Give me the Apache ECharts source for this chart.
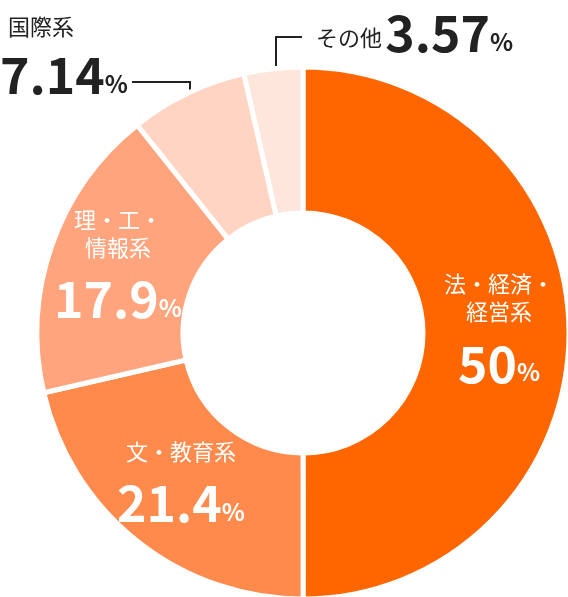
<!DOCTYPE html>
<html><head><meta charset="utf-8">
<script src="https://cdn.jsdelivr.net/npm/echarts@6/dist/echarts.min.js"></script>
<style>html,body{margin:0;padding:0;background:#fff}#c{width:568px;height:597px}</style>
</head><body><div id="c"></div>
<script>
const categories = ['法・経済・\n経営系', '文・教育系', '理・工・\n情報系', '国際系', 'その他'];
const values = [50, 21.4, 17.9, 7.14, 3.57];
const valueLabels = ['50', '21.4', '17.9', '7.14', '3.57'];
const colors = ['#FF6600', '#FF8A4C', '#FFA47C', '#FFD4C3', '#FFE6DC'];
const F = '"Noto Sans CJK JP", sans-serif';
const chart = echarts.init(document.getElementById('c'));
const data = values.map((v, i) => ({
  value: v, name: categories[i],
  itemStyle: {color: colors[i]},
  label: i < 3 ? {show: true, position: 'inside',
    formatter: '{n|' + categories[i] + '}\n{v|' + valueLabels[i] + '}{p|%}'} : {show: false}
}));
chart.setOption({
  animation: false,
  series: [{
    type: 'pie', center: [303, 333], radius: [120, 266], startAngle: 90, clockwise: true,
    itemStyle: {borderColor: '#fff', borderWidth: 5},
    labelLine: {show: false},
    label: {
      color: '#fff', align: 'center',
      rich: {
        n: {fontFamily: F, fontSize: 22, color: '#fff', lineHeight: 28, align: 'center'},
        v: {fontFamily: F, fontSize: 50, fontWeight: 600, color: '#fff', lineHeight: 70, padding: [6,0,0,0]},
        p: {fontFamily: F, fontSize: 24, fontWeight: 600, color: '#fff', padding: [22,0,0,0]}
      }
    },
    data: data
  }],
  graphic: [
    {type: 'text', left: 8, top: 16, style: {text: '国際系', font: '22px ' + F, fill: '#222'}},
    {type: 'text', left: 0, top: 50, style: {text: '{v|' + valueLabels[3] + '}{p|%}', rich: {
      v: {fontFamily: F, fontSize: 50, fontWeight: 600, fill: '#222'},
      p: {fontFamily: F, fontSize: 24, fontWeight: 600, fill: '#222', padding: [18,0,0,0]}}}},
    {type: 'polyline', shape: {points: [[132, 82], [190, 82], [190, 116]]}, style: {stroke: '#222', lineWidth: 2, fill: null}},
    {type: 'text', left: 316, top: 8, style: {text: '{n|' + categories[4] + '} {v|' + valueLabels[4] + '}{p|%}', rich: {
      n: {fontFamily: F, fontSize: 22, fill: '#222', padding: [10,0,0,0]},
      v: {fontFamily: F, fontSize: 50, fontWeight: 600, fill: '#222'},
      p: {fontFamily: F, fontSize: 24, fontWeight: 600, fill: '#222', padding: [18,0,0,0]}}}},
    {type: 'polyline', shape: {points: [[302, 37], [276, 37], [276, 82]]}, style: {stroke: '#222', lineWidth: 2, fill: null}}
  ]
});
</script></body></html>
